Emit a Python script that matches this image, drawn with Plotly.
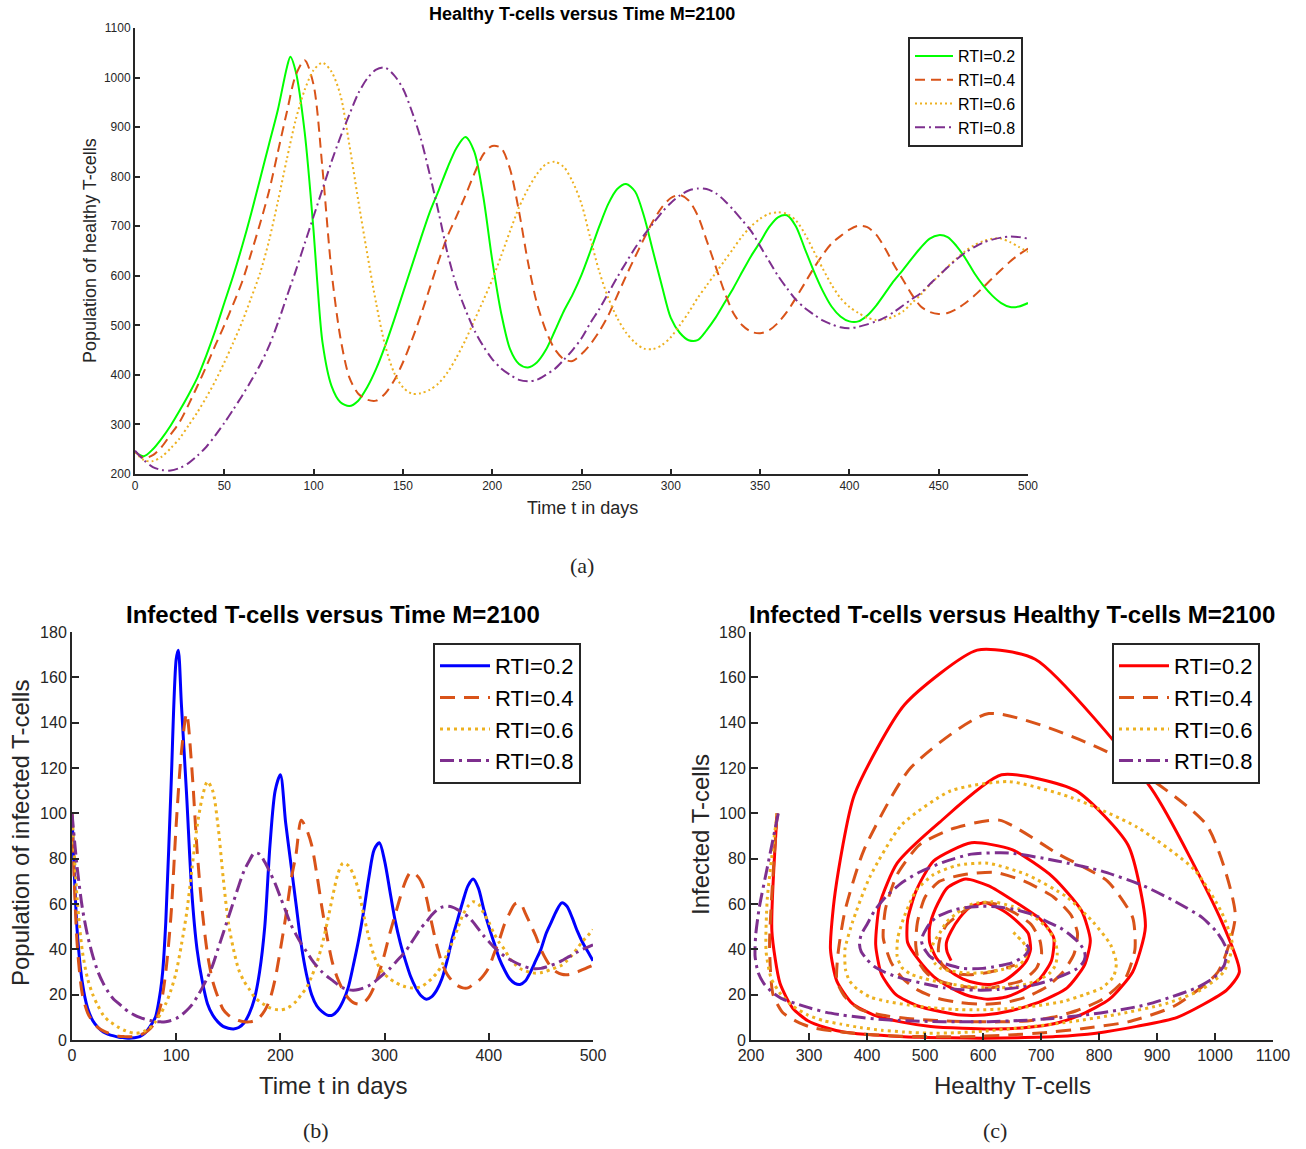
import plotly.graph_objects as go

W, H = 1306, 1149

# ---------------- data ----------------
T = list(range(0, 501, 5))  # time in days (RTI=0.4, 0.6, 0.8)
# RTI=0.2 has two extra samples around its sharp first peak
T02 = T[:18] + [87] + T[18:21] + [102] + T[21:]

# Healthy T-cells
H02 = [245, 236, 250, 272, 298, 328, 360, 395, 440, 490,
       545, 600, 660, 725, 795, 865, 935, 1020, 1042, 1012, 890,
       690, 590, 465, 378, 345, 337, 348, 375, 412, 458, 510,
       565, 620, 675, 728, 772, 818, 858, 880, 850, 760,
       632, 525, 452, 422, 415, 425, 450, 488, 528, 562,
       602, 650, 700, 745, 775, 785, 770, 720, 650, 580,
       515, 485, 470, 470, 490, 515, 545, 575, 608, 640,
       668, 698, 718, 722, 700, 655, 610, 570, 538, 518,
       508, 508, 520, 540, 565, 590, 612, 635, 657, 675,
       682, 678, 660, 635, 605, 580, 560, 545, 537, 538,
       545]
H04 = [245, 232, 238, 255, 280, 305, 340, 378, 418, 460,
       500, 543, 588, 645, 705, 770, 850, 930, 1005, 1035,
       985, 815, 610, 475, 395, 362, 350, 348, 362, 388,
       425, 470, 520, 575, 630, 680, 720, 762, 806, 845,
       862, 858, 815, 730, 628, 545, 490, 452, 432, 428,
       442, 462, 488, 520, 560, 600, 638, 675, 710, 738,
       757, 763, 752, 722, 672, 620, 568, 525, 500, 487,
       484, 490, 505, 527, 555, 585, 615, 642, 665, 680,
       693, 701, 698, 683, 655, 622, 592, 562, 538, 527,
       523, 525, 533, 545, 560, 577, 595, 612, 629, 643,
       655]
H06 = [245, 228, 226, 235, 252, 272, 298, 325, 355, 388,
       425, 465, 507, 555, 605, 670, 750, 835, 915, 975,
       1015, 1030, 1012, 965, 865, 752, 645, 545, 460, 405,
       375, 362, 363, 370, 383, 405, 435, 470, 510, 550,
       592, 640, 690, 738, 775, 805, 825, 830, 820, 790,
       745, 675, 608, 555, 515, 485, 465, 453, 452, 460,
       476, 500, 526, 555, 580, 605, 630, 655, 680, 700,
       715, 725, 728, 725, 712, 685, 650, 615, 582, 555,
       537, 525, 515, 511, 512, 518, 528, 545, 562, 582,
       600, 618, 635, 650, 662, 670, 675, 675, 668, 658,
       648]
H08 = [247, 228, 214, 208, 207, 212, 222, 237, 255, 278,
       303, 330, 358, 388, 420, 458, 505, 558, 610, 665,
       720, 775, 830, 880, 925, 968, 998, 1016, 1020, 1005,
       978, 932, 877, 805, 728, 645, 580, 532, 490, 458,
       432, 413, 400, 390, 387, 390, 400, 412, 430, 450,
       474, 505, 533, 565, 597, 627, 656, 682, 705, 728,
       747, 762, 772, 776, 775, 767, 752, 733, 712, 690,
       660, 630, 600, 575, 552, 535, 522, 510, 502, 496,
       494, 497, 502, 508, 516, 527, 540, 553, 565, 583,
       600, 617, 633, 647, 658, 667, 673, 677, 679, 678,
       675]

# Infected T-cells
I02 = [100, 48, 25, 14, 8.5, 5.5, 3.5, 2.5, 1.8, 1.2,
       1.0, 0.8, 1.0, 1.5, 3, 6, 10, 22, 30, 52, 111,
       168, 172, 148, 108, 65, 40, 26, 16, 11, 8, 6,
       5.2, 4.9, 5.5, 7.5, 11.5, 18, 30, 50, 86, 110,
       117, 96, 78, 60, 42, 29, 20, 15, 12.5, 11,
       11, 13, 17, 23, 33, 44, 57, 72, 84, 87,
       79, 66, 53, 43, 35, 28, 23, 19.5, 18, 19,
       22, 27, 35, 45, 53, 61, 68, 71, 67, 58,
       50, 43, 36, 31, 27, 25, 24.5, 26, 30, 35,
       40, 47, 52, 57, 60.5, 59, 54, 48, 43, 39,
       35]
I04 = [100, 42, 20, 12, 8, 5.5, 4, 3, 2.2, 1.7,
       1.5, 1.4, 1.6, 2.2, 3.2, 5, 8, 15, 30, 55,
       95, 127, 144, 120, 84, 57, 38, 26, 19, 13.5,
       11, 9.5, 8.6, 8.1, 8, 8.5, 10, 13, 18, 27,
       40, 54, 70, 82, 97, 93, 86, 73, 58, 45,
       34, 27, 22, 18.5, 16.5, 15.8, 16.5, 19, 23.5, 30,
       38, 47, 55, 63, 70, 74, 73, 70, 63, 52,
       42, 34, 29, 26, 24, 23, 23, 24.5, 26, 28.5,
       32, 38, 44, 51, 56, 60, 60.5, 56, 51, 46,
       40, 35.5, 32, 30, 29, 28.8, 29.2, 30, 31, 32,
       33]
I06 = [100, 62, 39, 27, 20, 15, 11, 8.5, 7, 5.5,
       4.3, 3.5, 3, 3.2, 4, 5.5, 8, 11.5, 16, 22,
       30, 42, 56, 75, 94, 107, 114, 110, 95, 72,
       52, 40, 31, 26, 22.5, 19, 17, 15.5, 14.2, 13.5,
       13.3, 13.8, 15, 17, 20, 23, 28, 34, 42, 52,
       63, 73, 78, 77, 73, 66, 55, 45, 37, 32,
       29, 27, 25.5, 24.3, 23.5, 23, 23, 23.5, 25, 27,
       29.5, 33, 38, 43, 49, 55, 59, 61, 60, 56,
       52, 47, 43, 40, 36, 33.5, 31.5, 30.5, 29.8, 29.5,
       29.7, 30.3, 31.2, 32, 33, 35, 37.5, 40.5, 43.5, 46,
       48.7]
I08 = [100, 76, 58, 46, 37, 30, 25, 21, 18, 16,
       14, 12.2, 11, 10, 9.2, 8.6, 8.2, 8, 8.1, 8.6,
       9.5, 11, 13, 15.5, 19, 23, 27.5, 33, 40, 47,
       54, 61, 68, 74.5, 79, 82.5, 82, 78.5, 74, 69,
       63, 57, 51, 46.5, 42.5, 39, 35.5, 32.5, 30, 28,
       26.3, 24.5, 23, 22.2, 22, 22.3, 23, 24, 25.5, 27.5,
       29.5, 31.5, 34, 36.5, 39, 42.5, 46, 49.5, 52, 55,
       57.3, 58.6, 59, 58.6, 57.5, 56, 54.5, 52, 49, 46,
       43.5, 41, 39, 37, 35.5, 34.3, 33.2, 32.3, 31.6, 31.4,
       31.6, 32.2, 33, 33.8, 35, 36.3, 37.5, 38.8, 40, 41,
       42]

NAMES = ["RTI=0.2", "RTI=0.4", "RTI=0.6", "RTI=0.8"]
TIMES = [T02, T, T, T]
HEALTHY = [H02, H04, H06, H08]
INFECTED = [I02, I04, I06, I08]

XTICKS_A = [0, 50, 100, 150, 200, 250, 300, 350, 400, 450, 500]
YTICKS_A = [200, 300, 400, 500, 600, 700, 800, 900, 1000, 1100]
XTICKS_B = [0, 100, 200, 300, 400, 500]
YTICKS_BC = [0, 20, 40, 60, 80, 100, 120, 140, 160, 180]
XTICKS_C = [200, 300, 400, 500, 600, 700, 800, 900, 1000, 1100]

# ---------------- styling ----------------
ORANGE, YELLOW, PURPLE = "#D95319", "#EDB120", "#7E2F8E"
COL_A = ["#00FF00", ORANGE, YELLOW, PURPLE]
COL_B = ["#0000FF", ORANGE, YELLOW, PURPLE]
COL_C = ["#FF0000", ORANGE, YELLOW, PURPLE]
DASH_A = ["solid", "10px,6px", "2px,3px", "10px,4px,2px,4px"]
DASH_BC = ["solid", "15px,9px", "3px,4px", "14px,5px,3px,5px"]
FONT = "Liberation Sans, Arial, sans-serif"
AX = "#262626"


def px(x):
    return x / W


def py(y):
    return 1 - y / H


fig = go.Figure()

for i in range(4):
    fig.add_trace(go.Scatter(x=TIMES[i], y=HEALTHY[i], mode="lines", name=NAMES[i],
                             line=dict(color=COL_A[i], width=2, dash=DASH_A[i], shape="spline", smoothing=0.8),
                             xaxis="x", yaxis="y", legend="legend"))
for i in range(4):
    fig.add_trace(go.Scatter(x=TIMES[i], y=INFECTED[i], mode="lines", name=NAMES[i],
                             line=dict(color=COL_B[i], width=3, dash=DASH_BC[i], shape="spline", smoothing=0.8),
                             xaxis="x2", yaxis="y2", legend="legend2"))
for i in range(4):
    fig.add_trace(go.Scatter(x=HEALTHY[i], y=INFECTED[i], mode="lines", name=NAMES[i],
                             line=dict(color=COL_C[i], width=3, dash=DASH_BC[i], shape="spline", smoothing=0.6),
                             xaxis="x3", yaxis="y3", legend="legend3"))


def axis(domain, rng, ticks, anchor, ticklen, fs):
    return dict(domain=domain, range=rng, tickvals=ticks, anchor=anchor,
                showgrid=False, zeroline=False, showline=True, linecolor=AX,
                linewidth=2, ticks="inside", ticklen=ticklen, tickwidth=1.5,
                tickcolor=AX, tickfont=dict(family=FONT, size=fs, color=AX),
                mirror=False, automargin=False)


def legend(x, y, fs, iw):
    return dict(x=x, y=y, xanchor="left", yanchor="top", bgcolor="white",
                bordercolor=AX, borderwidth=2,
                font=dict(family=FONT, size=fs, color="black"),
                itemwidth=iw, tracegroupgap=0)


fig.update_layout(
    width=W, height=H, autosize=False,
    margin=dict(l=0, r=0, t=0, b=0, pad=0, autoexpand=False),
    paper_bgcolor="white", plot_bgcolor="white",
    xaxis=axis([px(135), px(1028)], [0, 500], XTICKS_A, "y", 5, 12),
    yaxis=axis([py(474), py(28)], [200, 1100], YTICKS_A, "x", 5, 12),
    xaxis2=axis([px(72), px(593)], [0, 500], XTICKS_B, "y2", 7, 16),
    yaxis2=axis([py(1040), py(632)], [0, 180], YTICKS_BC, "x2", 7, 16),
    xaxis3=axis([px(751), px(1273)], [200, 1100], XTICKS_C, "y3", 7, 16),
    yaxis3=axis([py(1040), py(632)], [0, 180], YTICKS_BC, "x3", 7, 16),
    legend=legend(px(908), py(37), 16, 38),
    legend2=legend(px(433), py(643), 22, 50),
    legend3=legend(px(1112), py(643), 22, 50),
)

ann = [
    ("<b>Healthy T-cells versus Time M=2100</b>", 582, 14, 18, 0, FONT),
    ("Time t in days", 582, 508, 18, 0, FONT),
    ("Population of healthy T-cells", 90, 251, 18, -90, FONT),
    ("(a)", 582, 565, 22, 0, "Liberation Serif, serif"),
    ("<b>Infected T-cells versus Time M=2100</b>", 333, 614, 24, 0, FONT),
    ("Time t in days", 333, 1085, 24, 0, FONT),
    ("Population of infected T-cells", 20, 833, 24, -90, FONT),
    ("(b)", 316, 1130, 22, 0, "Liberation Serif, serif"),
    ("<b>Infected T-cells versus Healthy T-cells M=2100</b>", 1012, 614, 24, 0, FONT),
    ("Healthy T-cells", 1012, 1085, 24, 0, FONT),
    ("Infected T-cells", 700, 835, 24, -90, FONT),
    ("(c)", 995, 1130, 22, 0, "Liberation Serif, serif"),
]
for text, x, y, fs, ang, fam in ann:
    fig.add_annotation(text=text, x=px(x), y=py(y), xref="paper", yref="paper",
                       showarrow=False, textangle=ang, xanchor="center", yanchor="middle",
                       font=dict(family=fam, size=fs, color="#262626" if "<b>" not in text else "black"))

fig.write_html("out.html")
